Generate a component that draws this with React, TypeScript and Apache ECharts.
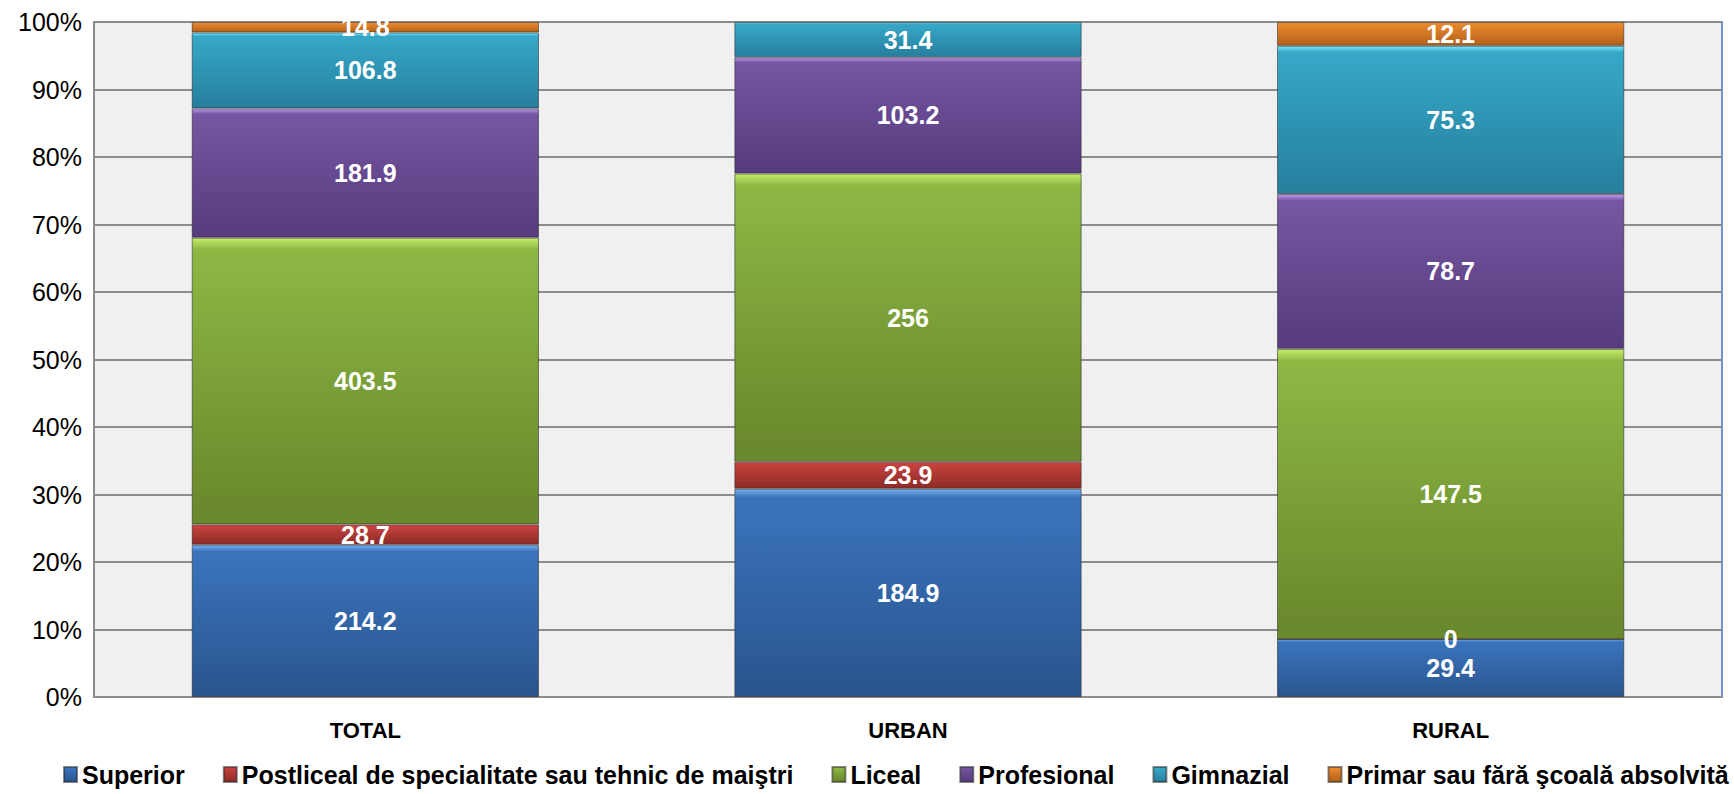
import React, { useEffect, useRef } from "react";
import * as echarts from "echarts";

const categories = ["TOTAL", "URBAN", "RURAL"];
const seriesNames = [
  "Superior",
  "Postliceal de specialitate sau tehnic de maiştri",
  "Liceal",
  "Profesional",
  "Gimnazial",
  "Primar sau fără şcoală absolvită",
];
const superior = [214.2, 184.9, 29.4];
const postliceal = [28.7, 23.9, 0];
const liceal = [403.5, 256, 147.5];
const profesional = [181.9, 103.2, 78.7];
const gimnazial = [106.8, 31.4, 75.3];
const primar = [14.8, 0, 12.1];
const yTicks = [0, 10, 20, 30, 40, 50, 60, 70, 80, 90, 100];

const palette = [
  { top: "#78b0f0", base: "#3b74bc", bottom: "#2a5690" },
  { top: "#ff7a76", base: "#c8423d", bottom: "#8e2c28" },
  { top: "#c6ec6a", base: "#8db844", bottom: "#6a882c" },
  { top: "#bc9ce8", base: "#7656a2", bottom: "#573c7e" },
  { top: "#7ae8ff", base: "#37a8c8", bottom: "#26809e" },
  { top: "#ffbc6a", base: "#ec8a2c", bottom: "#b4621c" },
];

export default function App() {
  const ref = useRef<HTMLDivElement>(null);
  useEffect(() => {
    document.body.style.margin = "0";
    const chart = echarts.init(ref.current!, undefined, { renderer: "svg" });
    const raw = [superior, postliceal, liceal, profesional, gimnazial, primar];
    const totals = categories.map((_, i) => raw.reduce((s, arr) => s + arr[i], 0));
    const font = "'Liberation Sans Narrow', 'Liberation Sans', Arial, sans-serif";
    const series = raw.map((arr, si) => ({
      name: seriesNames[si],
      type: "bar",
      stack: "all",
      barWidth: "64%",
      data: arr.map((v, i) => ({ value: (v / totals[i]) * 100, raw: v })),
      itemStyle: {
        color: new echarts.graphic.LinearGradient(0, 0, 0, 1, [
          { offset: 0, color: palette[si].top },
          { offset: 0.04, color: palette[si].base },
          { offset: 0.96, color: palette[si].bottom },
          { offset: 1, color: palette[si].bottom },
        ]),
        borderColor: "rgba(40,40,40,0.55)",
        borderWidth: 1,
      },
      label: {
        show: true,
        position: "inside",
        color: "#ffffff",
        fontWeight: "bold",
        fontSize: 25,
        fontFamily: font,
        formatter: (p: any) => String(p.data.raw),
      },
    }));
    chart.setOption({
      animation: false,
      backgroundColor: "#ffffff",
      grid: {
        left: 94,
        right: 12,
        top: 22,
        bottom: 97,
        show: true,
        backgroundColor: "#f0f0f0",
        borderColor: "#6f92cc",
        borderWidth: 2,
      },
      legend: {
        bottom: 2,
        left: 58,
        width: 1676,
        padding: 5,
        icon: "rect",
        itemWidth: 13,
        itemHeight: 15,
        itemGap: 38,
        textStyle: { fontSize: 25, fontWeight: "bold", fontFamily: font, color: "#000" },
        data: seriesNames,
      },
      xAxis: {
        type: "category",
        data: categories,
        axisLine: { lineStyle: { color: "#8c8c8c", width: 2 } },
        axisTick: { show: false },
        axisLabel: { fontSize: 22, fontWeight: "bold", fontFamily: font, color: "#000", margin: 22 },
      },
      yAxis: {
        type: "value",
        min: yTicks[0],
        max: yTicks[yTicks.length - 1],
        interval: 10,
        axisLine: { show: true, lineStyle: { color: "#8c8c8c", width: 2 } },
        axisTick: { show: false },
        splitLine: { lineStyle: { color: "#8c8c8c", width: 2 } },
        axisLabel: { fontSize: 25, fontFamily: font, color: "#000", formatter: "{value}%", margin: 12 },
      },
      series,
    });
    return () => chart.dispose();
  }, []);
  return <div ref={ref} style={{ width: "1734px", height: "794px" }} />;
}
